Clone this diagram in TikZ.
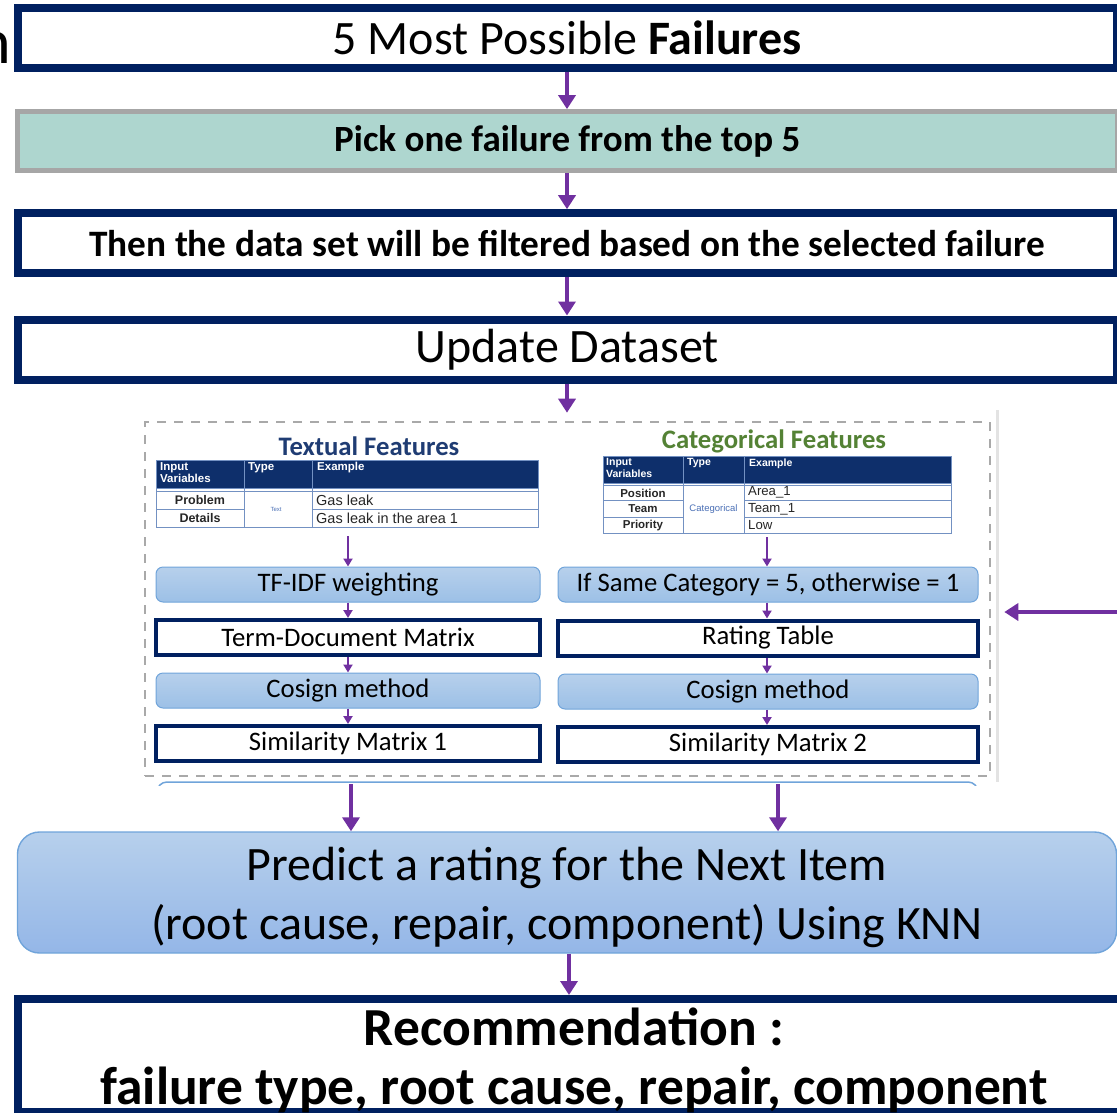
\documentclass[tikz,border=0pt]{standalone}
\usepackage{fontspec}
\setmainfont{Carlito}
\newfontfamily\tabfont{Liberation Sans}
\usetikzlibrary{arrows.meta,calc}

\definecolor{navy}{HTML}{002060}
\definecolor{tealfill}{HTML}{AED6CF}
\definecolor{framegray}{HTML}{A6A6A6}
\definecolor{flow}{HTML}{7030A0}
\definecolor{stepblueA}{HTML}{B7D0EC}
\definecolor{stepblueB}{HTML}{9CC0E6}
\definecolor{stepedge}{HTML}{70A4DA}
\definecolor{thead}{HTML}{0E2F6B}
\definecolor{tline}{HTML}{7391C2}
\definecolor{ttitle}{HTML}{1F3C73}
\definecolor{cgreen}{HTML}{548235}
\definecolor{typeblue}{HTML}{4A6FB5}
\definecolor{edgegray}{HTML}{E3E3E3}
\definecolor{dashgray}{HTML}{A9A9A9}

\tikzset{
  bigbox/.style={draw=navy, line width=8pt, fill=white, minimum width=1099.5pt,
    minimum height=60pt, inner sep=0pt, font=\fontsize{48}{52}\selectfont},
  pickbox/.style={draw=framegray, line width=4.7pt, fill=tealfill, minimum width=1099.5pt,
    minimum height=59pt, inner sep=0pt, font=\fontsize{37}{40}\selectfont\bfseries},
  stepbox/.style={draw=stepedge, line width=1pt, rounded corners=7pt,
    top color=stepblueA, bottom color=stepblueB, minimum height=35pt, inner sep=0pt,
    font=\fontsize{26.7}{28}\selectfont},
  matbox/.style={draw=navy, line width=4pt, fill=white, minimum height=35pt,
    inner sep=0pt, font=\fontsize{26.7}{28}\selectfont},
  bigflow/.style={draw=flow, line width=4.5pt, -{Triangle[width=17pt,length=14pt]}},
  smallflow/.style={draw=flow, line width=2.4pt, -{Triangle[width=9pt,length=8pt]}},
  cellhead/.style={text=white, inner sep=0pt, anchor=north west, align=left},
  cellname/.style={text=black!85, inner sep=0pt},
  cellval/.style={text=black!85, inner sep=0pt, anchor=west},
  celltype/.style={text=typeblue, inner sep=0pt},
  featuretitle/.style={font=\fontsize{26.7}{28}\selectfont\bfseries, inner sep=0pt},
}

\begin{document}
\begin{tikzpicture}[x=1pt,y=-1pt]
\useasboundingbox (0,0) rectangle (1117,1112);

% vertical axes of the flow
\coordinate (axis) at (567,0);
\coordinate (recaxis) at (569,0);

% cut-off word at the left margin
\node[anchor=base east, inner sep=0pt, font=\fontsize{64}{64}\selectfont] (stray) at (11,63) {n};

% main flow boxes
\node[bigbox] (top5) at (567.25,37.5) {5 Most Possible \textbf{Failures}};
\node[pickbox] (pick) at (567.25,141) {Pick one failure from the top 5};
\node[bigbox, font=\fontsize{37.3}{40}\selectfont\bfseries] (filter) at (567.25,243.2)
  {Then the data set will be filtered based on the selected failure};
\node[bigbox] (update) at (567.25,349.5) {Update Dataset};

% panel holding the two feature pipelines
\draw[edgegray, line width=3pt] (997,410) -- (997,782);
\node[draw=dashgray, line width=2.6pt, dash pattern=on 9pt off 8pt,
  minimum width=845pt, minimum height=354pt, inner sep=0pt] (panel) at (567.5,599) {};

% textual features table
\node[featuretitle, text=ttitle] (ttitleL) at (369,446) {Textual Features};
\fill[thead] (156,460) rectangle (538,488);
\draw[tline, line width=0.9pt] (156,460) rectangle (538,527);
\draw[tline, line width=0.9pt] (156,488) -- (538,488) (156,491) -- (538,491)
  (156,509) -- (244,509) (312,509) -- (538,509)
  (244,460) -- (244,527) (312,460) -- (312,527);
\node[cellhead, font=\tabfont\bfseries\fontsize{11.5}{12.5}\selectfont] (lh1) at (160,462) {Input\\Variables};
\node[cellhead, font=\tabfont\bfseries\fontsize{11.5}{12.5}\selectfont] (lh2) at (248,462) {Type};
\node[cellhead, font=\tabfont\bfseries\fontsize{11.5}{12.5}\selectfont] (lh3) at (317,462) {Example};
\node[cellname, font=\tabfont\bfseries\fontsize{12.5}{13}\selectfont] (lr1) at (200,500) {Problem};
\node[cellname, font=\tabfont\bfseries\fontsize{12.5}{13}\selectfont] (lr2) at (200,518) {Details};
\node[celltype, font=\tabfont\fontsize{6}{6}\selectfont] (ltype) at (276,509) {Text};
\node[cellval, font=\tabfont\fontsize{14.5}{15}\selectfont] (lv1) at (316,500) {Gas leak};
\node[cellval, font=\tabfont\fontsize{14.5}{15}\selectfont] (lv2) at (316,518) {Gas leak in the area 1};
\coordinate (tabL) at (348,536);

% categorical features table
\node[featuretitle, text=cgreen] (ttitleR) at (774,441) {Categorical Features};
\fill[thead] (603,456) rectangle (951,483);
\draw[tline, line width=0.9pt] (603,456) rectangle (951,533);
\draw[tline, line width=0.9pt] (603,483) -- (951,483) (603,485.5) -- (951,485.5)
  (603,500) -- (683,500) (744,500) -- (951,500)
  (603,517) -- (683,517) (744,517) -- (951,517)
  (683,456) -- (683,533) (744,456) -- (744,533);
\node[cellhead, font=\tabfont\bfseries\fontsize{10.5}{11.5}\selectfont] (rh1) at (606,458.5) {Input\\Variables};
\node[cellhead, font=\tabfont\bfseries\fontsize{10.5}{11.5}\selectfont] (rh2) at (687,458.5) {Type};
\node[cellhead, font=\tabfont\bfseries\fontsize{10.5}{11.5}\selectfont] (rh3) at (749,458.5) {Example};
\node[cellname, font=\tabfont\bfseries\fontsize{11.5}{12}\selectfont] (rr1) at (643,493) {Position};
\node[cellname, font=\tabfont\bfseries\fontsize{11.5}{12}\selectfont] (rr2) at (643,509) {Team};
\node[cellname, font=\tabfont\bfseries\fontsize{11.5}{12}\selectfont] (rr3) at (643,525.5) {Priority};
\node[celltype, font=\tabfont\fontsize{9.5}{10}\selectfont] (rtype) at (713.5,509) {Categorical};
\node[cellval, font=\tabfont\fontsize{13.2}{14}\selectfont] (rv1) at (748,492.5) {Area\_1};
\node[cellval, font=\tabfont\fontsize{13.2}{14}\selectfont] (rv2) at (748,509) {Team\_1};
\node[cellval, font=\tabfont\fontsize{13.2}{14}\selectfont] (rv3) at (748,525) {Low};
\coordinate (tabR) at (767,537);

% textual pipeline
\node[stepbox, minimum width=384pt] (tfidf) at (348,584.5) {TF-IDF weighting};
\node[matbox, minimum width=384pt] (tdm) at (348,637.5) {Term-Document Matrix};
\node[stepbox, minimum width=384pt] (cosL) at (348,690.5) {Cosign method};
\node[matbox, minimum width=384pt] (sim1) at (348,743.5) {Similarity Matrix 1};

% categorical pipeline
\node[stepbox, minimum width=420pt] (samecat) at (768,584.5) {If Same Category = 5, otherwise = 1};
\node[matbox, minimum width=420pt] (rating) at (768,638) {Rating Table};
\node[stepbox, minimum width=420pt] (cosR) at (768,691.5) {Cosign method};
\node[matbox, minimum width=420pt] (sim2) at (768,744.5) {Similarity Matrix 2};

% top edge of the next step, just visible under the panel
\begin{scope}
  \clip (150,779) rectangle (990,785);
  \draw[stepedge, line width=1.5pt, rounded corners=10pt] (157,782) rectangle (978,830);
\end{scope}

% prediction and result
\node[draw=stepedge, line width=1.4pt, rounded corners=22pt, top color=stepblueA,
  bottom color=stepblueB!95!blue, minimum width=1099pt, minimum height=121pt,
  inner sep=0pt] (predict) at (567,892.5) {};
\node[align=center, inner sep=0pt, font=\fontsize{48}{59}\selectfont] (predicttext)
  at ([yshift=-5pt]predict.center)
  {Predict a rating for the Next Item\\(root cause, repair, component) Using KNN};
\node[draw=navy, line width=8pt, fill=white, minimum width=1112pt, minimum height=113pt,
  inner sep=0pt] (rec) at (574,1055.5) {};
\node[align=center, inner sep=0pt, font=\fontsize{53.5}{59}\selectfont\bfseries] (rectext)
  at ([yshift=-5pt]rec.center)
  {Recommendation :\\failure type, root cause, repair, component};
\coordinate (feedback) at (1130,612);

% main flow connectors
\draw[bigflow] (top5.south -| axis) -- (pick.north -| axis);
\draw[bigflow] (pick.south -| axis) -- (filter.north -| axis);
\draw[bigflow] (filter.south -| axis) -- (update.north -| axis);
\draw[bigflow, shorten >=8pt] (update.south -| axis) -- (panel.north -| axis);

% pipeline connectors
\draw[smallflow] (tabL) -- (tfidf.north);
\draw[smallflow] (tfidf) -- (tdm);
\draw[smallflow] (tdm) -- (cosL);
\draw[smallflow] (cosL) -- (sim1);
\draw[smallflow] (tabR) -- (samecat.north -| tabR);
\draw[smallflow] (samecat.south -| tabR) -- (rating.north -| tabR);
\draw[smallflow] (rating.south -| tabR) -- (cosR.north -| tabR);
\draw[smallflow] (cosR.south -| tabR) -- (sim2.north -| tabR);

% panel to prediction, prediction to result, feedback
\draw[bigflow, shorten <=7pt] ([xshift=3pt]sim1.south |- panel.south) -- ([xshift=3pt]sim1.south |- predict.north);
\draw[bigflow, shorten <=7pt] ([xshift=10pt]sim2.south |- panel.south) -- ([xshift=10pt]sim2.south |- predict.north);
\draw[bigflow] (predict.south -| recaxis) -- (rec.north -| recaxis);
\draw[bigflow, shorten >=13pt] (feedback) -- (panel.east |- feedback);
\end{tikzpicture}
\end{document}
